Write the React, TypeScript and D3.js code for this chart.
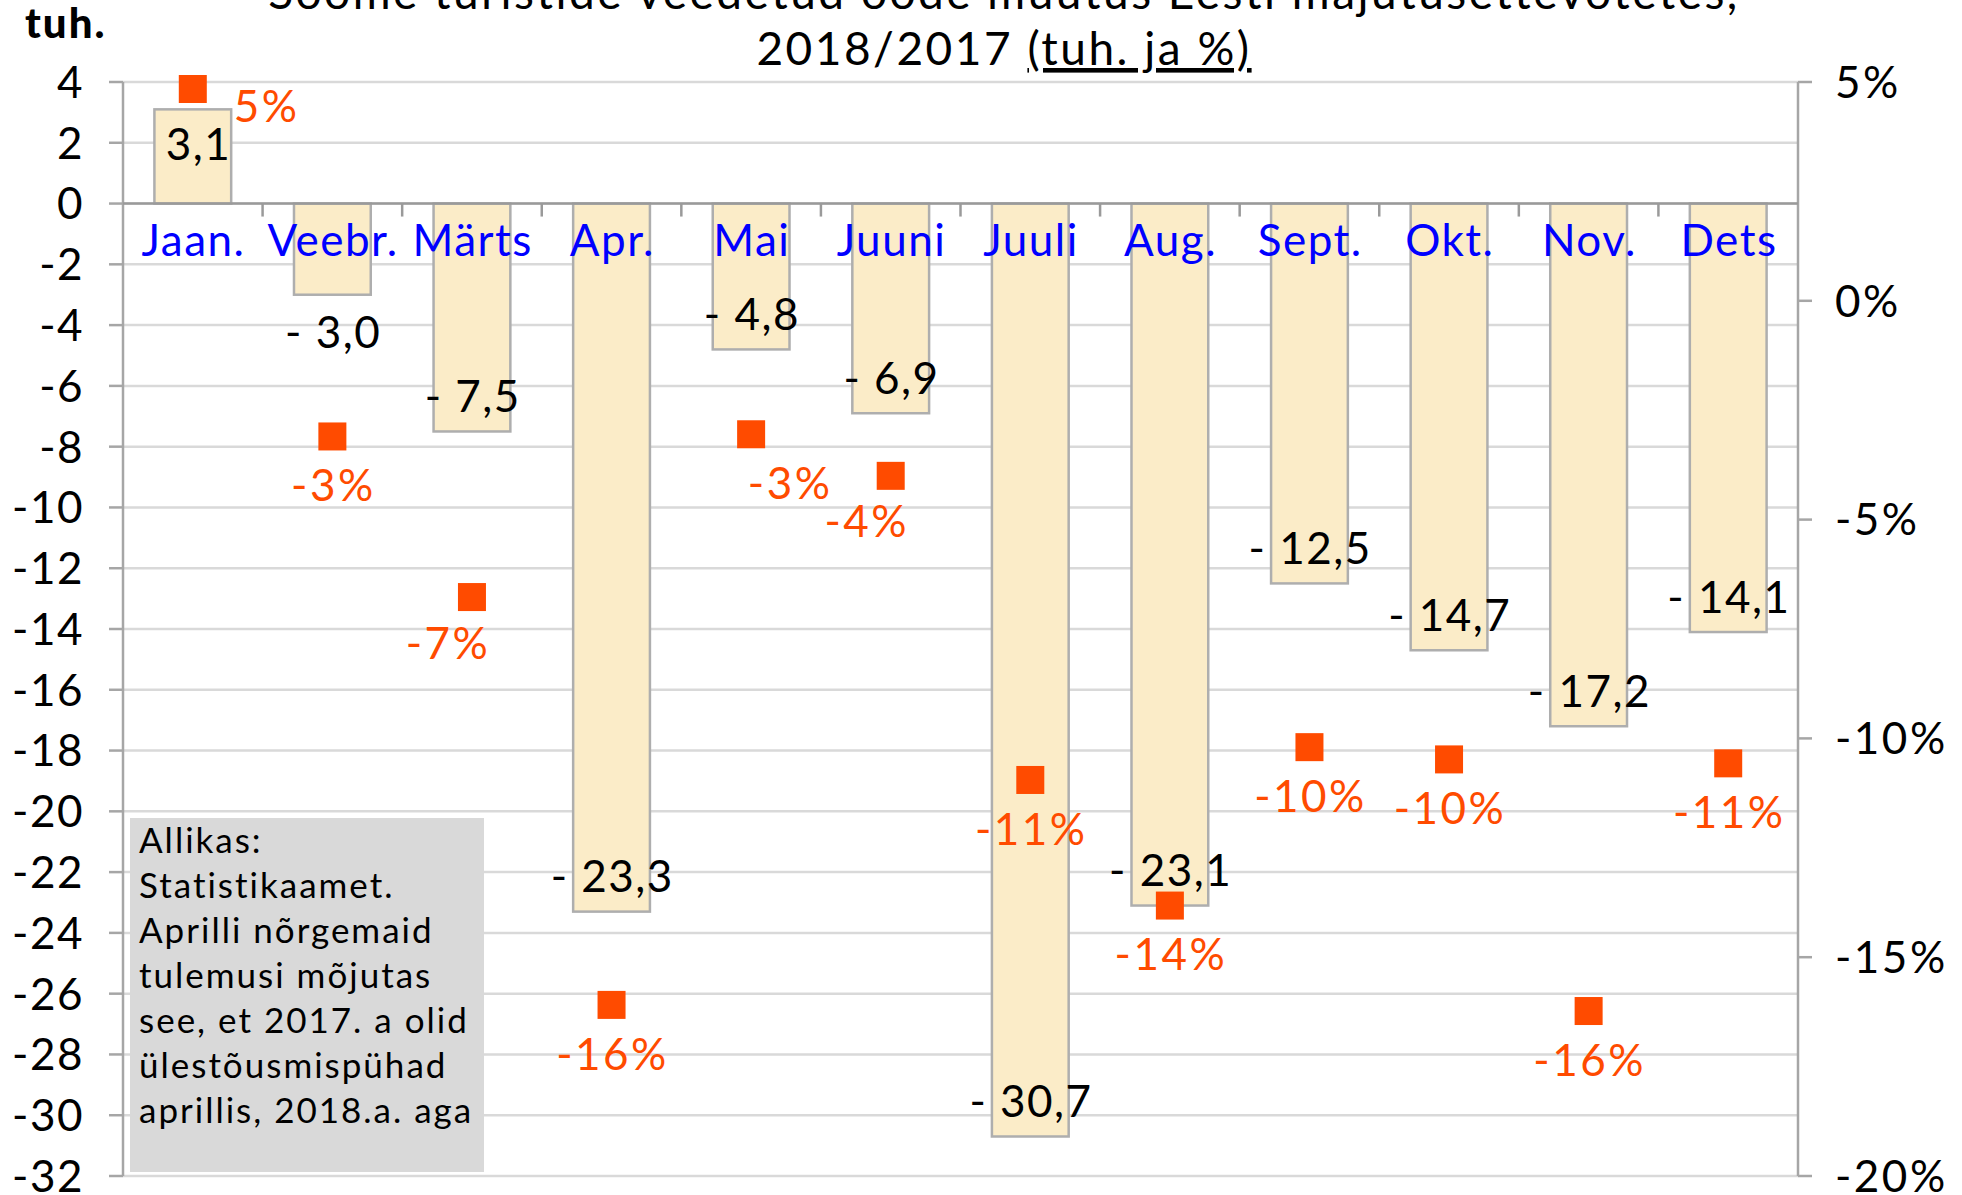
import { useEffect, useRef } from 'react';
import * as d3 from 'd3';

// Soome turistide ööd, muutus 2018/2017
const months = ['Jaan.', 'Veebr.', 'Märts', 'Apr.', 'Mai', 'Juuni', 'Juuli', 'Aug.', 'Sept.', 'Okt.', 'Nov.', 'Dets'];
const changeThousands = [3.1, -3.0, -7.5, -23.3, -4.8, -6.9, -30.7, -23.1, -12.5, -14.7, -17.2, -14.1];
const changePercent = [4.84, -3.1, -6.77, -16.09, -3.05, -4.0, -10.95, -13.82, -10.2, -10.48, -16.23, -10.57];
const leftTicks = [4, 2, 0, -2, -4, -6, -8, -10, -12, -14, -16, -18, -20, -22, -24, -26, -28, -30, -32];
const rightTicks = [5, 0, -5, -10, -15, -20];
const titleLines = ['Soome turistide veedetud ööde muutus Eesti majutusettevõtetes,', '2018/2017 '];
const titleUnderlined = '(tuh. ja %)';
const noteLines = [
    'Allikas:',
    'Statistikaamet.',
    'Aprilli nõrgemaid',
    'tulemusi mõjutas',
    'see, et 2017. a olid',
    'ülestõusmispühad',
    'aprillis, 2018.a. aga',
];

const FONT = 'Lato, "Open Sans", sans-serif';
const LS = 1.5; // letter spacing for the 44px texts

const App = () => {
    const svgRef = useRef<SVGSVGElement>(null);

    useEffect(() => {
        if (!svgRef.current) return;
        const svg = d3.select(svgRef.current);
        svg.selectAll('*').remove();

        const left = 123, right = 1798, top = 82, bottom = 1176;

        const x = d3.scaleBand<string>()
            .domain(months)
            .range([left, right])
            .paddingInner(0.45)
            .paddingOuter(0.225);
        const step = x.step();
        const cx = (m: string) => (x(m) as number) + x.bandwidth() / 2;

        const yL = d3.scaleLinear().domain([-32, 4]).range([bottom, top]);
        const yR = d3.scaleLinear().domain([-20, 5]).range([bottom, top]);

        // gridlines
        svg.append('g')
            .selectAll('line')
            .data(leftTicks)
            .enter()
            .append('line')
            .attr('x1', left)
            .attr('x2', right)
            .attr('y1', d => yL(d))
            .attr('y2', d => yL(d))
            .attr('stroke', '#d9d9d9')
            .attr('stroke-width', 2.5);

        // left axis
        svg.append('line')
            .attr('x1', left).attr('x2', left)
            .attr('y1', top).attr('y2', bottom)
            .attr('stroke', '#a6a6a6').attr('stroke-width', 2.5);
        svg.append('g')
            .selectAll('line')
            .data(leftTicks)
            .enter()
            .append('line')
            .attr('x1', left - 14).attr('x2', left)
            .attr('y1', d => yL(d)).attr('y2', d => yL(d))
            .attr('stroke', '#a6a6a6').attr('stroke-width', 2.5);
        svg.append('g')
            .selectAll('text')
            .data(leftTicks)
            .enter()
            .append('text')
            .attr('x', 84)
            .attr('y', d => yL(d))
            .attr('dy', '0.36em')
            .attr('text-anchor', 'end')
            .attr('font-family', FONT)
            .attr('font-size', 44)
            .attr('letter-spacing', LS)
            .attr('fill', '#000')
            .text(d => String(d));

        // right axis
        svg.append('line')
            .attr('x1', right).attr('x2', right)
            .attr('y1', top).attr('y2', bottom)
            .attr('stroke', '#a6a6a6').attr('stroke-width', 2.5);
        svg.append('g')
            .selectAll('line')
            .data(rightTicks)
            .enter()
            .append('line')
            .attr('x1', right).attr('x2', right + 14)
            .attr('y1', d => yR(d)).attr('y2', d => yR(d))
            .attr('stroke', '#a6a6a6').attr('stroke-width', 2.5);
        svg.append('g')
            .selectAll('text')
            .data(rightTicks)
            .enter()
            .append('text')
            .attr('x', 1835)
            .attr('y', d => yR(d))
            .attr('dy', '0.36em')
            .attr('font-family', FONT)
            .attr('font-size', 44)
            .attr('letter-spacing', 2.5)
            .attr('fill', '#000')
            .text(d => d + '%');

        // bars
        svg.append('g')
            .selectAll('rect')
            .data(changeThousands)
            .enter()
            .append('rect')
            .attr('x', (d, i) => x(months[i]) as number)
            .attr('width', x.bandwidth())
            .attr('y', d => Math.min(yL(d), yL(0)))
            .attr('height', d => Math.abs(yL(d) - yL(0)))
            .attr('fill', '#fbecc8')
            .attr('stroke', '#aeaeae')
            .attr('stroke-width', 2.5);

        // category axis at zero
        const y0 = yL(0);
        svg.append('line')
            .attr('x1', left).attr('x2', right)
            .attr('y1', y0).attr('y2', y0)
            .attr('stroke', '#9a9a9a').attr('stroke-width', 2.5);
        svg.append('g')
            .selectAll('line')
            .data(months.slice(1))
            .enter()
            .append('line')
            .attr('x1', d => (x(d) as number) - step * 0.225)
            .attr('x2', d => (x(d) as number) - step * 0.225)
            .attr('y1', y0).attr('y2', y0 + 13)
            .attr('stroke', '#9a9a9a').attr('stroke-width', 2.5);
        svg.append('g')
            .selectAll('text')
            .data(months)
            .enter()
            .append('text')
            .attr('x', d => cx(d) + LS / 2)
            .attr('y', y0 + 52)
            .attr('text-anchor', 'middle')
            .attr('font-family', FONT)
            .attr('font-size', 44)
            .attr('letter-spacing', LS)
            .attr('fill', '#0000ff')
            .text(d => d);

        // bar value labels
        const fmt = (v: number) => {
            const s = d3.format('.1f')(Math.abs(v)).replace('.', ',');
            return v < 0 ? '- ' + s : s;
        };
        svg.append('g')
            .selectAll('text')
            .data(changeThousands)
            .enter()
            .append('text')
            .attr('x', (d, i) => cx(months[i]) + (d > 0 ? 5 : 0) + LS / 2)
            .attr('y', d => {
                const len = Math.abs(yL(d) - y0);
                const outside = d < 0 && len < 100;
                if (d > 0) return yL(d) + 35;
                return outside ? yL(d) + 37 : yL(d) - 35;
            })
            .attr('dy', '0.36em')
            .attr('text-anchor', 'middle')
            .attr('font-family', FONT)
            .attr('font-size', 44)
            .attr('letter-spacing', LS)
            .attr('fill', '#000')
            .text(d => fmt(d));

        // percent markers
        const size = 28;
        svg.append('g')
            .selectAll('rect')
            .data(changePercent)
            .enter()
            .append('rect')
            .attr('x', (d, i) => cx(months[i]) - size / 2)
            .attr('y', d => yR(d) - size / 2)
            .attr('width', size)
            .attr('height', size)
            .attr('fill', '#ff4b00');

        // percent labels (a few are nudged, as in the original)
        const nudge: Record<string, [number, number]> = {
            'Märts': [-25, -3],
            'Mai': [38, 0],
            'Juuni': [-25, -4],
        };
        svg.append('g')
            .selectAll('text')
            .data(changePercent)
            .enter()
            .append('text')
            .attr('x', (d, i) => {
                const m = months[i];
                if (d > 0) return cx(m) + 41;
                return cx(m) + (nudge[m] ? nudge[m][0] : 0) + 1;
            })
            .attr('y', (d, i) => {
                const m = months[i];
                if (d > 0) return yR(d) + 17;
                return yR(d) + 49 + (nudge[m] ? nudge[m][1] : 0);
            })
            .attr('dy', '0.36em')
            .attr('text-anchor', d => (d > 0 ? 'start' : 'middle'))
            .attr('font-family', FONT)
            .attr('font-size', 44)
            .attr('letter-spacing', 2.5)
            .attr('fill', '#ff4b00')
            .text(d => Math.round(d) + '%');

        // note box
        svg.append('rect')
            .attr('x', 130).attr('y', 818)
            .attr('width', 354).attr('height', 354)
            .attr('fill', '#d9d9d9');
        svg.append('g')
            .selectAll('text')
            .data(noteLines)
            .enter()
            .append('text')
            .attr('x', 139)
            .attr('y', (d, i) => 853 + i * 45)
            .attr('font-family', FONT)
            .attr('font-size', 35)
            .attr('letter-spacing', 2)
            .attr('fill', '#000')
            .text(d => d);

        // unit label
        svg.append('text')
            .attr('x', 25).attr('y', 38)
            .attr('font-family', FONT)
            .attr('font-size', 42)
            .attr('font-weight', 900)
            .attr('letter-spacing', 2)
            .attr('fill', '#000')
            .text('tuh.');

        // title
        const title = svg.append('text')
            .attr('text-anchor', 'middle')
            .attr('font-family', FONT)
            .attr('font-size', 46)
            .attr('letter-spacing', 2.5)
            .attr('fill', '#000');
        title.append('tspan').attr('x', 1004).attr('y', 9).text(titleLines[0]);
        const l2 = title.append('tspan').attr('x', 1004).attr('y', 65);
        l2.append('tspan').text(titleLines[1]);
        l2.append('tspan').style('text-decoration', 'underline').text(titleUnderlined);
    }, []);

    return (
        <svg
            ref={svgRef}
            width={1962}
            height={1195}
            style={{ position: 'absolute', left: 0, top: 0, background: '#fff' }}
        />
    );
};

export default App;
